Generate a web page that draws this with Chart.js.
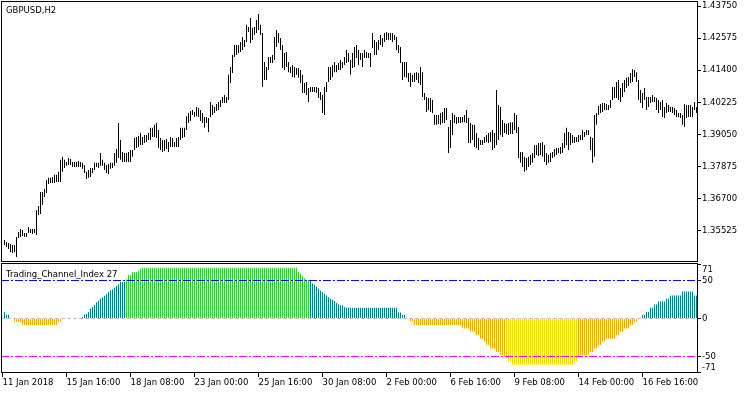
<!DOCTYPE html>
<html><head><meta charset="utf-8">
<script src="https://cdn.jsdelivr.net/npm/chart.js@4.4.1/dist/chart.umd.min.js"></script>
<style>
html,body{margin:0;padding:0;background:#fff;width:750px;height:394px;overflow:hidden}
canvas{position:absolute;left:0}
#c1{top:0}
#c2{top:262px}
</style></head><body>
<canvas id="c1" width="750" height="262"></canvas>
<canvas id="c2" width="750" height="132"></canvas>
<script>
// ---------- data ----------
const symbolTitle = 'GBPUSD,H2';
const indicatorTitle = 'Trading_Channel_Index 27';
const firstBarIndex = 1;            // bar 0 = 11 Jan 00:00
const timeTickIndex = [0,32,64,96,128,160,192,224,256,288,320];
const timeTickLabels = ['11 Jan 2018','15 Jan 16:00','18 Jan 08:00','23 Jan 00:00','25 Jan 16:00','30 Jan 08:00','2 Feb 00:00','6 Feb 16:00','9 Feb 08:00','14 Feb 00:00','16 Feb 16:00'];
const priceTicks = [1.43750,1.42575,1.41400,1.40225,1.39050,1.37875,1.36700,1.35525];
const priceMin = 1.34381, priceMax = 1.43897;
const tciTicks = [71,50,0,-50,-71];
const tciLevels = [50,0,-50];
const tciMin = -71.7, tciMax = 71.7;

const barHigh = [
1.3519,1.3511,1.3508,1.3504,1.3500,1.3500,1.3530,1.3548,1.3559,1.3555,
1.3544,1.3544,1.3566,1.3559,1.3559,1.3559,1.3628,1.3643,1.3694,1.3694,
1.3705,1.3738,1.3746,1.3746,1.3749,1.3757,1.3757,1.3768,1.3812,1.3823,
1.3812,1.3804,1.3819,1.3815,1.3804,1.3804,1.3804,1.3808,1.3804,1.3801,
1.3793,1.3768,1.3775,1.3782,1.3782,1.3801,1.3801,1.3801,1.3837,1.3812,
1.3801,1.3793,1.3797,1.3801,1.3801,1.3837,1.3852,1.3947,1.3885,1.3841,
1.3837,1.3837,1.3841,1.3848,1.3848,1.3892,1.3896,1.3899,1.3910,1.3896,
1.3903,1.3903,1.3910,1.3929,1.3929,1.3940,1.3947,1.3921,1.3892,1.3885,
1.3885,1.3888,1.3877,1.3896,1.3892,1.3877,1.3892,1.3896,1.3929,1.3929,
1.3929,1.3972,1.3983,1.3991,1.3994,1.3987,1.4005,1.4002,1.3994,1.3983,
1.3969,1.3969,1.3965,1.4024,1.4013,1.4005,1.4016,1.4024,1.4031,1.4042,
1.4049,1.4042,1.4123,1.4152,1.4196,1.4232,1.4232,1.4232,1.4243,1.4262,
1.4251,1.4306,1.4298,1.4331,1.4295,1.4298,1.4324,1.4346,1.4306,1.4276,
1.4170,1.4152,1.4188,1.4188,1.4196,1.4262,1.4287,1.4276,1.4258,1.4232,
1.4203,1.4207,1.4170,1.4152,1.4159,1.4152,1.4148,1.4148,1.4141,1.4123,
1.4093,1.4097,1.4075,1.4079,1.4079,1.4079,1.4079,1.4075,1.4060,1.4049,
1.4079,1.4097,1.4152,1.4152,1.4159,1.4170,1.4159,1.4166,1.4177,1.4170,
1.4188,1.4214,1.4203,1.4177,1.4203,1.4225,1.4232,1.4214,1.4203,1.4203,
1.4214,1.4207,1.4203,1.4203,1.4276,1.4251,1.4243,1.4251,1.4269,1.4258,
1.4276,1.4280,1.4276,1.4276,1.4276,1.4269,1.4262,1.4232,1.4225,1.4170,
1.4170,1.4170,1.4130,1.4130,1.4123,1.4130,1.4133,1.4130,1.4152,1.4133,
1.4057,1.4042,1.4038,1.4038,1.4031,1.3976,1.3976,1.3976,1.3983,1.3987,
1.4002,1.4002,1.3932,1.3958,1.3983,1.3976,1.3969,1.3969,1.3969,1.3969,
1.3976,1.3994,1.3965,1.3947,1.3940,1.3940,1.3910,1.3892,1.3885,1.3885,
1.3896,1.3903,1.3910,1.3914,1.3921,1.3910,1.4068,1.4013,1.4005,1.3958,
1.3947,1.3943,1.3947,1.3950,1.3950,1.3983,1.3976,1.3932,1.3841,1.3841,
1.3823,1.3819,1.3823,1.3830,1.3837,1.3866,1.3866,1.3874,1.3874,1.3877,
1.3866,1.3837,1.3830,1.3837,1.3841,1.3852,1.3855,1.3855,1.3859,1.3874,
1.3910,1.3929,1.3914,1.3910,1.3903,1.3896,1.3896,1.3903,1.3903,1.3921,
1.3914,1.3921,1.3921,1.3896,1.3892,1.3976,1.3983,1.4009,1.4016,1.4020,
1.4020,1.4016,1.4013,1.4031,1.4079,1.4079,1.4097,1.4104,1.4075,1.4093,
1.4104,1.4112,1.4115,1.4130,1.4144,1.4141,1.4133,1.4104,1.4068,1.4057,
1.4075,1.4042,1.4042,1.4042,1.4049,1.4042,1.4038,1.4031,1.4024,1.4031,
1.4005,1.4020,1.4013,1.4005,1.4005,1.4002,1.3994,1.3983,1.3983,1.3976,
1.4016,1.4013,1.4013,1.4013,1.4005,1.4024,1.4005
];
const barLow = [
1.3500,1.3493,1.3486,1.3474,1.3471,1.3474,1.3456,1.3526,1.3530,1.3533,
1.3530,1.3530,1.3544,1.3544,1.3541,1.3544,1.3537,1.3610,1.3614,1.3647,
1.3676,1.3691,1.3724,1.3727,1.3727,1.3727,1.3731,1.3731,1.3731,1.3768,
1.3782,1.3790,1.3793,1.3793,1.3786,1.3786,1.3786,1.3786,1.3786,1.3779,
1.3764,1.3742,1.3746,1.3749,1.3764,1.3775,1.3786,1.3782,1.3790,1.3790,
1.3775,1.3764,1.3760,1.3779,1.3782,1.3790,1.3801,1.3819,1.3812,1.3804,
1.3804,1.3804,1.3804,1.3804,1.3823,1.3848,1.3855,1.3859,1.3866,1.3866,
1.3874,1.3877,1.3885,1.3885,1.3896,1.3896,1.3892,1.3855,1.3848,1.3841,
1.3844,1.3852,1.3841,1.3859,1.3859,1.3859,1.3859,1.3859,1.3885,1.3892,
1.3896,1.3921,1.3947,1.3954,1.3976,1.3969,1.3972,1.3969,1.3954,1.3947,
1.3929,1.3947,1.3914,1.3969,1.3976,1.3983,1.3991,1.3994,1.4005,1.4020,
1.4020,1.4020,1.4031,1.4093,1.4130,1.4188,1.4196,1.4203,1.4207,1.4214,
1.4225,1.4243,1.4280,1.4240,1.4251,1.4269,1.4276,1.4287,1.4269,1.4079,
1.4104,1.4104,1.4141,1.4166,1.4166,1.4177,1.4225,1.4240,1.4214,1.4148,
1.4141,1.4152,1.4133,1.4130,1.4115,1.4112,1.4123,1.4112,1.4093,1.4057,
1.4057,1.4049,1.4024,1.4060,1.4060,1.4060,1.4057,1.4038,1.4031,1.3983,
1.3976,1.4060,1.4097,1.4104,1.4115,1.4133,1.4133,1.4141,1.4141,1.4148,
1.4159,1.4166,1.4170,1.4123,1.4148,1.4152,1.4185,1.4159,1.4177,1.4152,
1.4185,1.4185,1.4185,1.4152,1.4221,1.4196,1.4196,1.4214,1.4232,1.4225,
1.4243,1.4251,1.4251,1.4251,1.4243,1.4251,1.4214,1.4203,1.4166,1.4104,
1.4115,1.4112,1.4097,1.4079,1.4097,1.4097,1.4104,1.4093,1.4086,1.4042,
1.4031,1.3987,1.3994,1.3987,1.3983,1.3940,1.3940,1.3943,1.3940,1.3947,
1.3947,1.3958,1.3837,1.3855,1.3903,1.3947,1.3943,1.3947,1.3947,1.3950,
1.3950,1.3947,1.3874,1.3874,1.3885,1.3859,1.3855,1.3848,1.3866,1.3866,
1.3874,1.3877,1.3874,1.3877,1.3848,1.3855,1.3866,1.3885,1.3903,1.3896,
1.3910,1.3907,1.3903,1.3907,1.3907,1.3921,1.3910,1.3819,1.3801,1.3786,
1.3768,1.3775,1.3786,1.3793,1.3801,1.3819,1.3830,1.3826,1.3830,1.3823,
1.3804,1.3793,1.3801,1.3804,1.3819,1.3823,1.3830,1.3837,1.3833,1.3837,
1.3855,1.3866,1.3848,1.3866,1.3874,1.3874,1.3877,1.3877,1.3885,1.3885,
1.3896,1.3903,1.3903,1.3848,1.3801,1.3823,1.3940,1.3976,1.3983,1.3987,
1.3994,1.3994,1.3994,1.4002,1.4031,1.4038,1.4038,1.4031,1.4024,1.4042,
1.4060,1.4075,1.4082,1.4093,1.4097,1.4115,1.4097,1.4031,1.4020,1.4002,
1.4031,1.3994,1.4005,1.4020,1.4024,1.4024,1.3994,1.3983,1.3994,1.3969,
1.3965,1.3983,1.3987,1.3987,1.3983,1.3976,1.3969,1.3969,1.3965,1.3940,
1.3932,1.3965,1.3969,1.3969,1.3969,1.3994,1.3983
];
const tciValues = [
8.4,4.9,4.9,0,0,
-4.3,-4.3,-4.3,-4.3,
-8.6,-8.6,-8.6,-8.6,-8.6,-8.6,-8.6,-8.6,-8.6,
-8.6,-8.6,-8.6,-8.6,-8.6,-8.6,-8.6,-8.6,-8.6,
-4.3,-4.3,
0,0,0,0,0,0,0,0,0,0,
2,5,6,8.4,12.7,14.8,17.8,21.3,23.4,26.4,27.7,29.9,32,35,37.2,38.4,40.6,42.7,44.9,47.9,47.9,47.9,
51.8,57.3,57.3,61.2,61.2,61.2,62.5,65.9,
66.8,66.8,66.8,66.8,66.8,66.8,66.8,66.8,66.8,66.8,66.8,66.8,66.8,
66.8,66.8,66.8,66.8,66.8,66.8,66.8,66.8,66.8,66.8,66.8,66.8,66.8,
66.8,66.8,66.8,66.8,66.8,66.8,66.8,66.8,66.8,66.8,66.8,66.8,66.8,
66.8,66.8,66.8,66.8,66.8,66.8,66.8,66.8,66.8,66.8,66.8,66.8,66.8,
66.8,66.8,66.8,66.8,66.8,66.8,66.8,66.8,66.8,66.8,66.8,66.8,66.8,
66.8,66.8,66.8,66.8,66.8,66.8,66.8,66.8,66.8,66.8,66.8,66.8,66.8,
61.5,59,56,53,51,50.5,
49.6,46.2,44.6,41.9,38.9,36.5,34.6,32.4,30.3,28.1,26,24.7,23,20.4,18.7,17.4,17.4,15.2,14,
14,14,14,14,14,14,14,14,14,14,
14,14,14,14,14,14,14,14,14,14,
14,14,14,14,14,
8,8,4.5,4.5,0,0,
-4.1,-4.1,
-8.4,-8.4,-8.4,-8.4,-8.4,-8.4,-8.4,-8.4,-8.4,-8.4,-8.4,-8.4,
-8.4,-8.4,-8.4,-8.4,-8.4,-8.4,-8.4,-8.4,-8.4,-8.4,-8.4,-8.4,
-13,-13,-13,-13,
-17,-17,-17,
-22,-22,-26.6,-26.6,-30.3,-35,-35,-39.5,-39.5,-39.5,-44,-44,-47.9,-47.9,-49.5,-52.6,-56.9,-56.9,
-60.8,-60.8,-60.8,-60.8,-60.8,-60.8,-60.8,-60.8,-60.8,-60.8,
-60.8,-60.8,-60.8,-60.8,-60.8,-60.8,-60.8,-60.8,-60.8,-60.8,
-60.8,-60.8,-60.8,-60.8,-60.8,-60.8,-60.8,-60.8,-60.8,-60.8,-60.8,
-56.9,-56.9,-49.5,
-47.9,-47.9,-47.9,-47.9,-47.9,
-44,-44,-39.5,-39.5,-35,-35,-30.3,-30.3,
-26.6,-26.6,-26.6,-26.6,-26.6,
-22,-22,-17.4,-17.4,-13,-13,-13,-8.4,-8.4,-4.2,-4.2,0,0,
4.5,4.5,8.8,8.8,14,14,18.3,18.3,22.5,22.5,22.5,22.5,26,26,
30.3,30.3,30.3,30.3,30.3,30.3,
35.4,35.4,35.4,35.4,35.4,35.4,
30.3,30.3
];

// ---------- styling ----------
const FONT_FAMILY = 'DejaVu Sans';
const FONT = {family: FONT_FAMILY, size: 8.5};
Chart.defaults.font.family = FONT_FAMILY;
Chart.defaults.font.size = 8.5;
Chart.defaults.color = '#000';
const xMin = -0.75, xMax = 347.25;

function tciColor(v){
  if (v > 50) return '#32CD32';
  if (v > 0) return '#008080';
  if (v >= -50) return '#FFA500';
  return '#FFD700';
}

function framePlugin(title, titleY, edgeLabels){
  return {
    id: 'frame',
    afterDraw(chart){
      const a = chart.chartArea, ctx = chart.ctx;
      ctx.save();
      ctx.strokeStyle = '#000'; ctx.lineWidth = 1;
      ctx.strokeRect(a.left + 0.5, a.top - 0.5, a.right - a.left, a.bottom - a.top);
      ctx.fillStyle = '#000';
      ctx.font = '8.5px "' + FONT_FAMILY + '"';
      ctx.textBaseline = 'alphabetic'; ctx.textAlign = 'left';
      ctx.fillText(title, 6, titleY);
      if (edgeLabels) {
        ctx.textBaseline = 'middle';
        edgeLabels.forEach(l => ctx.fillText(l.text, a.right + 5, l.y));
      }
      ctx.restore();
    }
  };
}

const priceData = barHigh.map((h, i) => ({x: firstBarIndex + i, y: [barLow[i], h]}));

new Chart(document.getElementById('c1'), {
  type: 'bar',
  data: {datasets: [{data: priceData, backgroundColor: '#000', borderWidth: 0, barThickness: 1, inflateAmount: 0, grouped: false}]},
  options: {
    responsive: false, animation: false, devicePixelRatio: 1,
    layout: {padding: {left: 1, top: 2, right: 0, bottom: 0}},
    plugins: {legend: {display: false}, tooltip: {enabled: false}},
    scales: {
      x: {type: 'linear', min: xMin, max: xMax, display: false, offset: false, grid: {offset: false}},
      y: {
        position: 'right', min: priceMin, max: priceMax,
        afterBuildTicks: s => { s.ticks = priceTicks.map(v => ({value: v})); },
        afterFit: s => { s.width = 53; s.paddingTop = 0; s.paddingBottom = 0; },
        grid: {drawOnChartArea: false, drawTicks: true, tickLength: 4, color: '#000'},
        border: {display: false},
        ticks: {padding: 1, color: '#000', font: FONT, callback: v => v.toFixed(5)}
      }
    }
  },
  plugins: [framePlugin(symbolTitle, 13)]
});

const levelStyle = {
  '50': {color: '#0000FF', dash: [8, 2, 2, 2]},
  '0': {color: '#C0C0C0', dash: [4, 2]},
  '-50': {color: '#FF00FF', dash: [8, 2, 2, 2]}
};
const levelSets = tciLevels.map(l => ({
  type: 'line', data: [{x: xMin, y: l}, {x: xMax, y: l}],
  borderColor: levelStyle[String(l)].color, borderDash: levelStyle[String(l)].dash,
  borderWidth: 1, pointRadius: 0, fill: false, order: 0
}));

new Chart(document.getElementById('c2'), {
  type: 'bar',
  data: {datasets: [
    ...levelSets,
    {type: 'bar', data: tciValues.map((v, i) => ({x: firstBarIndex + i, y: v})),
     backgroundColor: tciValues.map(tciColor), borderWidth: 0, barThickness: 1, inflateAmount: 0, grouped: false, order: 1}
  ]},
  options: {
    responsive: false, animation: false, devicePixelRatio: 1,
    layout: {padding: {left: 1, top: 2, right: 0, bottom: 0}},
    plugins: {legend: {display: false}, tooltip: {enabled: false}},
    scales: {
      x: {
        type: 'linear', min: xMin, max: xMax, position: 'bottom', offset: false,
        afterBuildTicks: s => { s.ticks = timeTickIndex.map(v => ({value: v})); },
        afterFit: s => { s.height = 21; s.paddingLeft = 0; s.paddingRight = 0; },
        grid: {drawOnChartArea: false, drawTicks: true, tickLength: 4, color: '#000', offset: false},
        border: {display: false},
        ticks: {align: 'start', maxRotation: 0, autoSkip: false, padding: 1, color: '#000', font: FONT,
                callback: (v, idx) => timeTickLabels[idx]}
      },
      y: {
        position: 'right', min: tciMin, max: tciMax,
        afterBuildTicks: s => { s.ticks = tciTicks.map(v => ({value: v})); },
        afterFit: s => { s.width = 53; s.paddingTop = 0; s.paddingBottom = 0; },
        grid: {drawOnChartArea: false, drawTicks: true, tickLength: 4, color: '#000'},
        border: {display: false},
        ticks: {padding: 1, color: '#000', font: FONT,
                callback: v => (Math.abs(v) === 71 ? '' : String(v))}
      }
    }
  },
  plugins: [framePlugin(indicatorTitle, 15, [{text: '71', y: 7.5}, {text: '-71', y: 105.7}])]
});
</script>
</body></html>
